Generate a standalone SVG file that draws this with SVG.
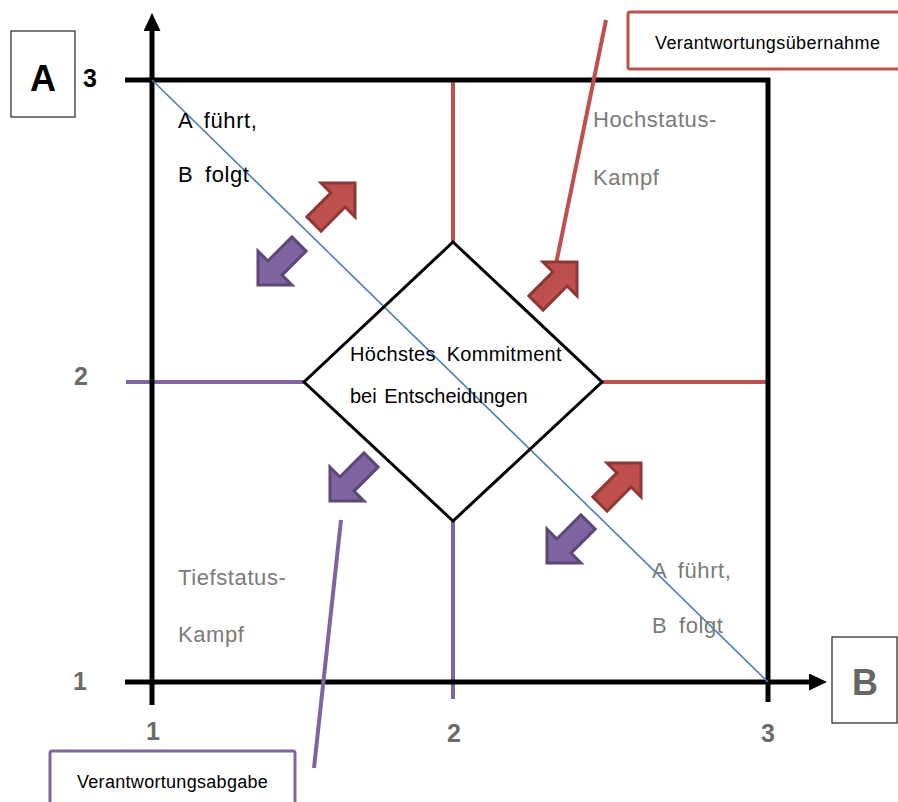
<svg xmlns="http://www.w3.org/2000/svg" width="898" height="802" viewBox="0 0 898 802">
<style>
.ax{stroke:#000;stroke-width:5;fill:none}
.red{stroke:#c0504d;stroke-width:4;fill:none}
.pur{stroke:#8064a2;stroke-width:4;fill:none}
.num{font-family:"Liberation Sans",Arial,sans-serif;font-weight:bold;font-size:25px;fill:#6b6b6b;text-anchor:middle}
.lbl{font-family:"Liberation Sans",Arial,sans-serif;font-size:22px;fill:#7a7a7a;letter-spacing:0.6px;word-spacing:5px}
.blk{fill:#000}
.sm{font-family:"Liberation Sans",Arial,sans-serif;font-size:18px;fill:#000}
.ctr{font-family:"Liberation Sans",Arial,sans-serif;font-size:20px;fill:#000}
.ra{fill:#c0504d;stroke:#8c3836;stroke-width:3;stroke-linejoin:miter}
.pa{fill:#8064a2;stroke:#5c4776;stroke-width:3;stroke-linejoin:miter}
</style>
<defs>
<path id="arr" d="M0,-10 L34,-10 L34,-24 L58,0 L34,24 L34,10 L0,10 Z"/>
<marker id="ah" markerWidth="18" markerHeight="17" refX="1" refY="8.5" orient="auto" markerUnits="userSpaceOnUse"><path d="M0,0 L18,8.5 L0,17 Z" fill="#000"/></marker>
</defs>
<rect width="898" height="802" fill="#fff"/>
<g id="connectors">
<line class="red" x1="453" y1="80" x2="453" y2="242"/>
<line class="red" x1="602" y1="382" x2="768" y2="382"/>
<line class="pur" x1="126" y1="382" x2="304" y2="382"/>
<line class="pur" x1="453" y1="521" x2="453" y2="699"/>
<line class="ax" x1="152" y1="705" x2="152" y2="30" marker-end="url(#ah)"/>
<line class="ax" x1="125" y1="682" x2="810" y2="682" marker-end="url(#ah)"/>
<line class="ax" x1="125" y1="80" x2="770" y2="80"/>
<line class="ax" x1="768" y1="78" x2="768" y2="702"/>
<line x1="152" y1="80" x2="768" y2="682" stroke="#4a7ebb" stroke-width="1.6"/>
<line class="red" x1="606" y1="20" x2="556" y2="264" stroke-width="3.5"/>
<line class="pur" x1="341" y1="520" x2="314" y2="768" stroke-width="3.5"/>
</g>
<g id="arrows">
<use href="#arr" class="ra" transform="translate(314,224) rotate(-45)"/>
<use href="#arr" class="ra" transform="translate(536,303) rotate(-45)"/>
<use href="#arr" class="ra" transform="translate(600,504) rotate(-45)"/>
<use href="#arr" class="pa" transform="translate(299,244) rotate(135)"/>
<use href="#arr" class="pa" transform="translate(371,460) rotate(135)"/>
<use href="#arr" class="pa" transform="translate(588,522) rotate(135)"/>
</g>
<g id="center">
<polygon points="453,242 602,382 453,521 304,382" fill="none" stroke="#000" stroke-width="3"/>
<text class="ctr" x="350" y="361" letter-spacing="0.3" word-spacing="5">Höchstes Kommitment</text>
<text class="ctr" x="350" y="403" word-spacing="2">bei Entscheidungen</text>
</g>
<g id="nodeA">
<rect x="11" y="31" width="64" height="86" fill="#fff" stroke="#333" stroke-width="1.3"/>
<text x="43" y="91" font-family="Liberation Sans,Arial,sans-serif" font-weight="bold" font-size="36" text-anchor="middle" fill="#000">A</text>
</g>
<g id="nodeB">
<rect x="832" y="637" width="65" height="86" fill="#fff" stroke="#333" stroke-width="1.3"/>
<text x="865" y="695" font-family="Liberation Sans,Arial,sans-serif" font-weight="bold" font-size="36" text-anchor="middle" fill="#666">B</text>
</g>
<g id="labels">
<text class="num blk" x="90" y="87">3</text>
<text class="num" x="81" y="385">2</text>
<text class="num" x="80" y="690">1</text>
<text class="num" x="153" y="740">1</text>
<text class="num" x="454" y="742">2</text>
<text class="num" x="768" y="742">3</text>
<text class="lbl blk" x="178" y="128">A führt,</text>
<text class="lbl blk" x="178" y="182">B folgt</text>
<text class="lbl" x="652" y="578">A führt,</text>
<text class="lbl" x="652" y="633">B folgt</text>
<text class="lbl" x="593" y="127">Hochstatus-</text>
<text class="lbl" x="593" y="185">Kampf</text>
<text class="lbl" x="178" y="585">Tiefstatus-</text>
<text class="lbl" x="178" y="642">Kampf</text>
</g>
<g id="nodeUebernahme">
<rect x="628" y="12" width="280" height="57" rx="2" fill="#fff" stroke="#c0504d" stroke-width="3"/>
<text class="sm" x="655" y="49" letter-spacing="0.4">Verantwortungsübernahme</text>
</g>
<g id="nodeAbgabe">
<rect x="50" y="751" width="245" height="70" rx="2" fill="#fff" stroke="#8064a2" stroke-width="3"/>
<text class="sm" x="77" y="788" letter-spacing="0.3">Verantwortungsabgabe</text>
</g>
</svg>
